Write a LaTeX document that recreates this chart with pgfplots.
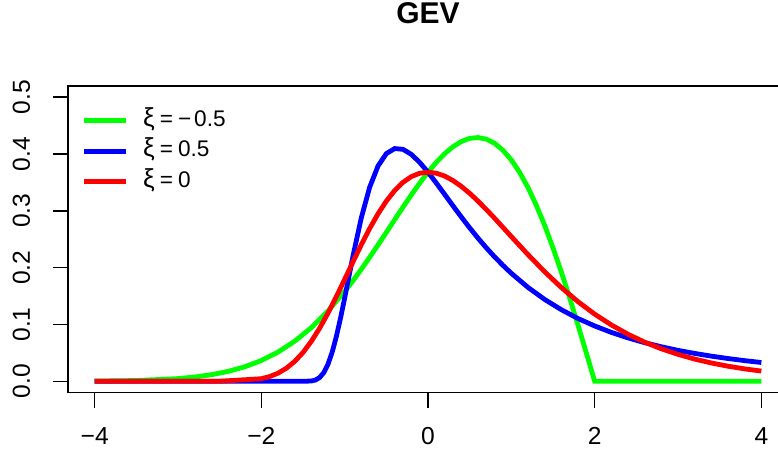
\documentclass[border=0pt]{standalone}
\usepackage{fontspec}
\setmainfont{Liberation Sans}
\usepackage{pgfplots}
\pgfplotsset{compat=1.18}
\definecolor{rgreen}{RGB}{0,255,0}
\definecolor{rblue}{RGB}{0,0,255}
\definecolor{rred}{RGB}{255,0,0}
\newcommand{\xisym}{{\fontsize{13}{13}\selectfont ξ}}
\begin{document}
\begin{tikzpicture}
\useasboundingbox (0,0) rectangle (389pt,225pt);
\begin{axis}[
  at={(34pt,28.65pt)}, anchor=south west,
  scale only axis, width=360pt, height=153.5pt,
  xmin=-4.32, xmax=4.32, ymin=-0.02, ymax=0.52,
  axis line style={line width=0.8pt},
  tick style={line width=0.8pt, black},
  major tick length=7.5pt,
  tick align=outside, tick pos=left,
  xtick={-4,-2,0,2,4},
  xticklabels={−4,−2,0,2,4},
  ytick={0,0.1,0.2,0.3,0.4,0.5},
  yticklabels={0.0,0.1,0.2,0.3,0.4,0.5},
  ticklabel style={font=\fontsize{12.3}{14}\selectfont},
  xticklabel style={anchor=north, inner sep=0pt},
  xticklabel shift=9.5pt,
  yticklabel style={rotate=90, anchor=base, inner sep=0pt},
  yticklabel shift=11.5pt,
  title={GEV},
  title style={at={(0.5,1)}, anchor=base, yshift=25.35pt, font=\fontsize{15}{18}\selectfont\bfseries},
  legend style={draw=none, fill=none, at={(axis description cs:0,1)}, anchor=north west,
    xshift=3.5pt, yshift=-8pt,
    font=\fontsize{11.3}{13}\selectfont, row sep=0.75pt,
    nodes={text height=8pt, text depth=2.5pt, inner sep=2pt}},
  legend cell align=left,
  legend image code/.code={\draw[#1] (0pt,0pt) -- (21pt,0pt); \path (26.5pt,0pt);},
  every axis plot/.append style={line width=2.4pt},
]
\addplot[rgreen] coordinates {
(-4,0.0004) (-3.5,0.0014) (-3,0.0048) (-2.8,0.0076) (-2.6,0.0116) (-2.4,0.0174)
(-2.2,0.0255) (-2,0.0366) (-1.8,0.0514) (-1.6,0.0705) (-1.4,0.0945) (-1.2,0.1237)
(-1,0.1581) (-0.9,0.1771) (-0.8,0.1972) (-0.7,0.2182) (-0.6,0.2399) (-0.5,0.2620)
(-0.4,0.2843) (-0.3,0.3065) (-0.2,0.3280) (-0.1,0.3486) (0,0.3679) (0.1,0.3853)
(0.2,0.4004) (0.3,0.4127) (0.4,0.4218) (0.5,0.4274) (0.6,0.4288) (0.7,0.4260)
(0.8,0.4186) (0.9,0.4064) (1.0,0.3894) (1.1,0.3675) (1.2,0.3409) (1.3,0.3096)
(1.4,0.2742) (1.5,0.2348) (1.6,0.1922) (1.7,0.1467) (1.8,0.0990) (1.92,0.0399)
(2,0) (4,0)
};
\addlegendentry{\xisym\kern2.5pt=\kern2.5pt−\kern1.5pt0.5}
\addplot[rblue] coordinates {
(-4,0) (-1.6,0) (-1.5,0.0000) (-1.4,0.0006) (-1.35,0.0023) (-1.3,0.0067)
(-1.25,0.0155) (-1.2,0.0302) (-1.15,0.0513) (-1.1,0.0787) (-1.05,0.1110)
(-1.0,0.1465) (-0.95,0.1837) (-0.9,0.2204) (-0.8,0.2879) (-0.7,0.3414)
(-0.6,0.3787) (-0.5,0.4006) (-0.4,0.4094) (-0.3,0.4081) (-0.2,0.3992)
(-0.1,0.3851) (0,0.3679) (0.1,0.3487) (0.2,0.3288) (0.3,0.3087) (0.4,0.2890)
(0.5,0.2700) (0.6,0.2519) (0.7,0.2348) (0.8,0.2188) (0.9,0.2039) (1.0,0.1900)
(1.2,0.1652) (1.4,0.1440) (1.6,0.1260) (1.8,0.1105) (2.0,0.0974) (2.2,0.0861)
(2.4,0.0764) (2.6,0.0680) (2.8,0.0608) (3.0,0.0545) (3.2,0.0491) (3.4,0.0443)
(3.6,0.0401) (3.8,0.0364) (4.0,0.0331)
};
\addlegendentry{\xisym\kern2.5pt=\kern2.5pt0.5}
\addplot[rred] coordinates {
(-4,0) (-3,0) (-2.5,0.0001) (-2,0.0046) (-1.9,0.0084) (-1.8,0.0143) (-1.7,0.0230)
(-1.6,0.0350) (-1.5,0.0507) (-1.4,0.0703) (-1.3,0.0936) (-1.2,0.1200) (-1.1,0.1489)
(-1.0,0.1794) (-0.9,0.2102) (-0.8,0.2404) (-0.7,0.2688) (-0.6,0.2946) (-0.5,0.3170)
(-0.4,0.3356) (-0.3,0.3500) (-0.2,0.3601) (-0.1,0.3660) (0,0.3679) (0.1,0.3661)
(0.2,0.3611) (0.3,0.3532) (0.4,0.3429) (0.5,0.3307) (0.6,0.3170) (0.7,0.3022)
(0.8,0.2867) (0.9,0.2707) (1.0,0.2546) (1.2,0.2229) (1.4,0.1927) (1.6,0.1650)
(1.8,0.1401) (2.0,0.1182) (2.2,0.0992) (2.4,0.0828) (2.6,0.0689) (2.8,0.0572)
(3.0,0.0474) (3.2,0.0391) (3.4,0.0323) (3.6,0.0266) (3.8,0.0219) (4.0,0.0180)
};
\addlegendentry{\xisym\kern2.5pt=\kern2.5pt0}
\end{axis}
\end{tikzpicture}
\end{document}
